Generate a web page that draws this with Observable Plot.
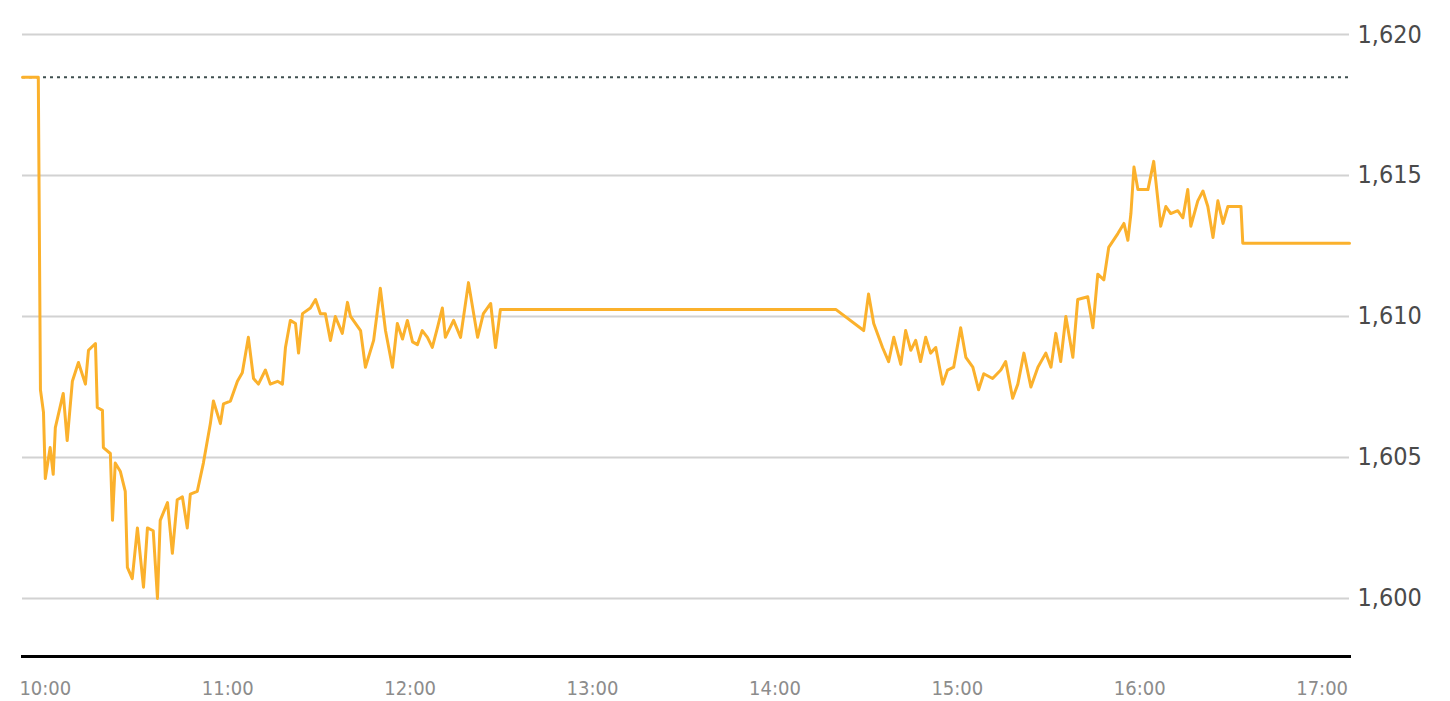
<!DOCTYPE html>
<html>
<head>
<meta charset="utf-8">
<script src="https://cdn.jsdelivr.net/npm/d3@7"></script>
<script src="https://cdn.jsdelivr.net/npm/@observablehq/plot@0.6"></script>
<style>
  html, body { margin: 0; padding: 0; background: #fff; }
  #chart svg { display: block; }
</style>
</head>
<body>
<div id="chart"></div>
<script>
// minutes after 10:00
const minutes = [
  -7.5, -2.3, -1.6, -0.6, 0, 1.6, 2.6, 3.3, 5.9, 7.2, 8.9, 10.9, 13.2, 14.2, 16.5, 17.1, 18.8, 19.1,
  21.4, 22.1, 23.0, 24.7, 26.3, 27.0, 28.6, 30.3, 31.3, 32.3, 33.6, 35.5, 36.9, 37.8, 40.2, 41.8,
  43.4, 45.1, 46.7, 47.7, 50.0, 52.0, 54.3, 55.3, 57.6, 58.6, 60.9, 63.2, 64.8, 66.8, 68.5, 70.1,
  72.4, 74.0, 76.4, 78.0, 79.0, 80.6, 82.3, 83.3, 84.6, 87.2, 88.9, 90.5, 92.1, 93.8, 95.4, 97.7,
  99.4, 100.4, 103.7, 105.3, 108.0, 110.2, 111.9, 114.2, 115.8, 117.5, 119.1, 120.8, 122.4, 124.0, 125.7, 127.3, 129.0, 130.6,
  131.6, 134.3, 136.6, 139.2, 142.2, 144.1, 146.5, 148.1, 149.7, 260.0, 269.2, 270.8, 272.5, 275.4,
  277.4, 279.1, 281.4, 283.0, 284.7, 286.3, 287.9, 289.6, 291.2, 292.9, 295.2, 296.8, 298.8, 301.1,
  302.8, 305.1, 307.0, 308.7, 311.6, 314.3, 315.9, 318.2, 319.9, 321.9, 324.2, 326.5, 329.1, 330.8,
  332.4, 334.0, 335.7, 338.0, 339.6, 342.9, 344.6, 346.2, 348.2, 349.8, 352.8, 354.8, 356.1, 357.1,
  358.1, 359.4, 362.7, 364.6, 366.9, 368.6, 370.2, 372.5, 374.2, 375.8, 376.8, 379.1, 380.8, 382.4,
  384.1, 385.7, 387.4, 389.0, 393.3, 393.9, 429.0
];
const prices = [
  1618.48, 1618.48, 1607.4, 1606.6, 1604.25, 1605.35, 1604.4, 1606.06, 1607.27, 1605.6, 1607.7, 1608.37, 1607.6, 1608.8, 1609.04, 1606.77, 1606.67, 1605.35,
  1605.14, 1602.77, 1604.8, 1604.5, 1603.8, 1601.1, 1600.7, 1602.5, 1601.45, 1600.4, 1602.5, 1602.4, 1600.0, 1602.77, 1603.4, 1601.6,
  1603.5, 1603.6, 1602.5, 1603.7, 1603.8, 1604.8, 1606.2, 1607.0, 1606.2, 1606.9, 1607.0, 1607.7, 1608.0, 1609.26, 1607.8, 1607.6,
  1608.1, 1607.6, 1607.7, 1607.6, 1608.9, 1609.86, 1609.75, 1608.7, 1610.1, 1610.3, 1610.6, 1610.1, 1610.1, 1609.15, 1610.0, 1609.4,
  1610.5, 1610.0, 1609.5, 1608.2, 1609.15, 1611.0, 1609.5, 1608.2, 1609.75, 1609.2, 1609.86, 1609.1, 1609.0, 1609.5, 1609.26, 1608.9, 1609.6, 1610.3,
  1609.26, 1609.86, 1609.26, 1611.2, 1609.26, 1610.1, 1610.46, 1608.9, 1610.25, 1610.25, 1609.5, 1610.8, 1609.75, 1608.9,
  1608.4, 1609.26, 1608.3, 1609.5, 1608.8, 1609.15, 1608.4, 1609.26, 1608.7, 1608.9, 1607.6, 1608.1, 1608.2, 1609.6,
  1608.55, 1608.2, 1607.4, 1607.97, 1607.8, 1608.1, 1608.4, 1607.1, 1607.6, 1608.7, 1607.5, 1608.2, 1608.7, 1608.2,
  1609.4, 1608.4, 1610.0, 1608.55, 1610.6, 1610.7, 1609.6, 1611.5, 1611.3, 1612.45, 1612.94, 1613.3, 1612.7, 1613.65,
  1615.3, 1614.5, 1614.5, 1615.5, 1613.2, 1613.9, 1613.65, 1613.75, 1613.5, 1614.5, 1613.2, 1614.1, 1614.45, 1613.9,
  1612.8, 1614.1, 1613.3, 1613.9, 1613.9, 1612.6, 1612.6
];
const previousClose = 1618.48;
const xTicks = [0, 60, 120, 180, 240, 300, 360, 420];
const xTickLabels = ["10:00", "11:00", "12:00", "13:00", "14:00", "15:00", "16:00", "17:00"];
const yTicks = [1600, 1605, 1610, 1615, 1620];
const xDomain = [-7.5, 429];
const yDomain = [1597.94, 1620];

const data = minutes.map((m, i) => ({m, p: prices[i]}));
const fontFam = "'Liberation Sans Narrow', 'DejaVu Sans Condensed', 'Roboto Condensed', Roboto, sans-serif";

const chart = Plot.plot({
  width: 1450,
  height: 701,
  marginLeft: 22,
  marginRight: 101,
  marginTop: 34,
  marginBottom: 45,
  style: {fontFamily: fontFam, background: "#fff", overflow: "visible"},
  x: {domain: xDomain, ticks: xTicks},
  y: {domain: yDomain, ticks: yTicks},
  marks: [
    Plot.gridY(yTicks, {stroke: "#d2d2d2", strokeOpacity: 1, strokeWidth: 2}),
    Plot.ruleY([previousClose], {stroke: "#3f4f4f", strokeWidth: 2, strokeDasharray: "3,4"}),
    Plot.line(data, {x: "m", y: "p", stroke: "#fbb12c", strokeWidth: 3, strokeLinejoin: "round"}),
    Plot.frame({anchor: "bottom", stroke: "#000", strokeWidth: 3}),
    Plot.axisY(yTicks, {anchor: "right", tickSize: 0, tickPadding: 8, tickFormat: d3.format(","),
      fontSize: 25, fill: "#4a4a4a", label: null}),
    Plot.axisX(xTicks, {anchor: "bottom", tickSize: 0, tickPadding: 24,
      tickFormat: (d) => xTickLabels[xTicks.indexOf(d)], fontSize: 20, fill: "#8c8c8c", label: null})
  ]
});
document.getElementById("chart").appendChild(chart);
</script>
</body>
</html>
